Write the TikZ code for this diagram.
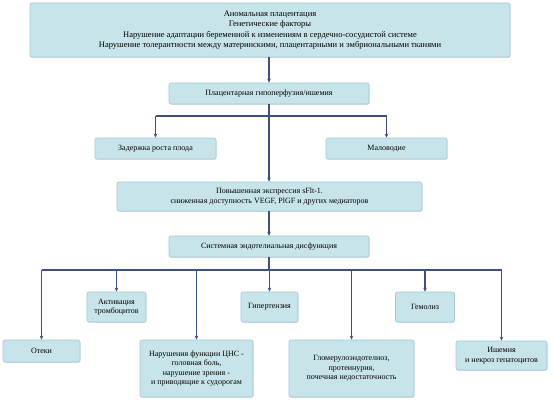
\documentclass[tikz,border=0pt]{standalone}
\usepackage{fontspec}
\setmainfont{Liberation Serif}
\usetikzlibrary{arrows.meta,shadows}
\definecolor{boxfill}{HTML}{C8E4EB}
\definecolor{boxline}{HTML}{A3CAD4}
\definecolor{arrline}{HTML}{3E5080}
\tikzset{
  bx/.style={draw=boxline,fill=boxfill,rounded corners=2pt,line width=0.6pt,
    align=center,inner sep=1pt,font=\fontsize{8}{9.5}\selectfont,
    drop shadow={shadow xshift=0.6pt,shadow yshift=-0.8pt,opacity=0.25}},
  arr/.style={draw=arrline,line width=1.1pt,-{Stealth[length=4pt,width=3.5pt]}},
  ln/.style={draw=arrline,line width=1.1pt}
}
\begin{document}
\begin{tikzpicture}[x=1pt,y=-1pt]
\useasboundingbox[fill=white] (0,0) rectangle (554,400);
\node[bx,minimum width=480pt,minimum height=54pt,font=\fontsize{8.5}{10.5}\selectfont] (top) at (270,30)
 {Аномальная плацентация\\Генетические факторы\\Нарушение адаптации беременной к изменениям в сердечно-сосудистой системе\\Нарушение толерантности между материнскими, плацентарными и эмбриональными тканями};
\node[bx,minimum width=200pt,minimum height=21pt] (hypo) at (269,93.5) {Плацентарная гипоперфузия/ишемия};
\node[bx,minimum width=121pt,minimum height=21pt] (growth) at (155.5,148.5) {Задержка роста плода};
\node[bx,minimum width=121pt,minimum height=21pt] (oligo) at (386.5,148.5) {Маловодие};
\node[bx,minimum width=305pt,minimum height=29pt] (sflt) at (269.5,196.5) {Повышенная экспрессия sFlt-1.\\ сниженная доступность VEGF, PlGF и других медиаторов};
\node[bx,minimum width=200pt,minimum height=21pt] (endo) at (269,246.5) {Системная эндотелиальная дисфункция};
\node[bx,minimum width=77pt,minimum height=22pt] (edema) at (41.5,351) {Отеки};
\node[bx,minimum width=59pt,minimum height=30pt] (plat) at (116.5,307) {Активация\\тромбоцитов};
\node[bx,minimum width=113pt,minimum height=57pt] (cns) at (196.5,368.5) {Нарушения функции ЦНС -\\головная боль,\\нарушение зрения -\\ и приводящие к судорогам};
\node[bx,minimum width=57pt,minimum height=30pt] (hyper) at (269.5,307) {Гипертензия};
\node[bx,minimum width=125pt,minimum height=57pt] (glom) at (351.5,368.5) {Гломерулоэндотелиоз,\\протеинурия,\\ почечная недостаточность};
\node[bx,minimum width=59pt,minimum height=30pt] (hemo) at (425,307) {Гемолиз};
\node[bx,minimum width=91pt,minimum height=29pt] (isch) at (501.5,355.5) {Ишемия\\ и некроз гепатоцитов};
% connectors
\coordinate (b1) at (269,116);
\coordinate (b2) at (269,270);
\draw[arr] (top.south -| hypo) -- (hypo.north);
\draw[arr] (hypo.south) -- (sflt.north -| hypo);
\draw[ln] (b1 -| growth) -- (b1 -| oligo);
\draw[arr] (b1 -| growth) -- (growth.north);
\draw[arr] (b1 -| oligo) -- (oligo.north);
\draw[arr] (sflt.south -| endo) -- (endo.north);
\draw[ln] (endo.south) -- (b2);
\draw[ln] (b2 -| edema) -- (b2 -| isch);
\foreach \n in {edema,plat,cns,hyper,glom,hemo,isch}{
  \draw[arr] (b2 -| \n) -- (\n.north);
}
\end{tikzpicture}
\end{document}
